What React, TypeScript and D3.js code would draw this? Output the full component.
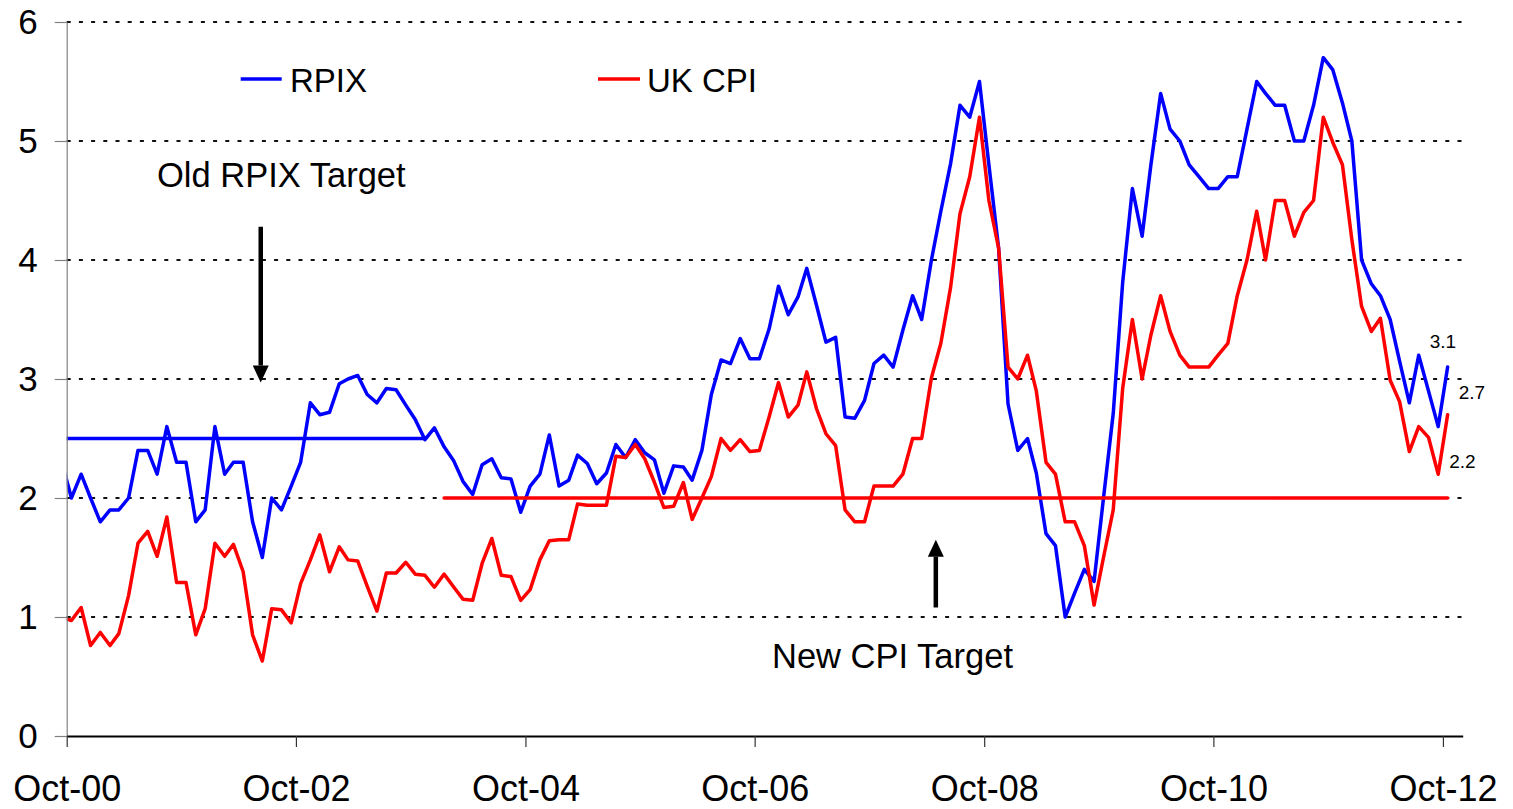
import React, { useEffect, useRef } from 'react';
import * as d3 from 'd3';

// monthly annual inflation rates, first value is Sep-00 (clipped by the axis)
const firstMonth = new Date(2000, 8, 16);

const rpix = [
  2.3, 2.0, 2.2, 2.0, 1.8, 1.9, 1.9, 2.0, 2.4, 2.4, 2.2, 2.6, 2.3, 2.3, 1.8, 1.9, 2.6, 2.2, 2.3, 2.3, 1.8, 1.5, 2.0, 1.9, 2.1, 2.3,
  2.8, 2.7, 2.72, 2.96, 3.0, 3.03, 2.87, 2.8, 2.92, 2.91, 2.78, 2.66, 2.49, 2.59, 2.43, 2.31, 2.14, 2.03, 2.28, 2.33, 2.17, 2.16, 1.88, 2.1, 2.2,
  2.53, 2.1, 2.15, 2.36, 2.29, 2.12, 2.21, 2.45, 2.34, 2.49, 2.38, 2.32, 2.04, 2.27, 2.26, 2.15, 2.4, 2.87, 3.16, 3.13, 3.34, 3.17, 3.17, 3.42, 3.78,
  3.54, 3.69, 3.93, 3.62, 3.31, 3.35, 2.68, 2.67, 2.82, 3.13, 3.2, 3.1, 3.41, 3.7, 3.5, 4.0, 4.41, 4.81, 5.3, 5.2, 5.5, 4.8, 4.1, 2.79, 2.4,
  2.5, 2.21, 1.7, 1.6, 1.0, 1.2, 1.4, 1.3, 2.0, 2.71, 3.81, 4.6, 4.2, 4.8, 5.4, 5.1, 5.0, 4.8, 4.7, 4.6, 4.6, 4.7, 4.7, 5.1, 5.5,
  5.4, 5.3, 5.3, 5.0, 5.0, 5.3, 5.7, 5.6, 5.32, 5.0, 4.0, 3.8, 3.7, 3.5, 3.15, 2.8, 3.2, 2.9, 2.6, 3.1,
];

const ukCpi = [
  1.0, 0.97, 1.08, 0.76, 0.87, 0.76, 0.86, 1.18, 1.62, 1.72, 1.51, 1.84, 1.29, 1.29, 0.85, 1.07, 1.62, 1.51, 1.61, 1.38, 0.85, 0.63, 1.07, 1.06, 0.95, 1.28,
  1.48, 1.69, 1.38, 1.59, 1.48, 1.47, 1.26, 1.05, 1.37, 1.37, 1.46, 1.36, 1.35, 1.25, 1.36, 1.25, 1.15, 1.14, 1.45, 1.66, 1.35, 1.34, 1.14, 1.23, 1.48,
  1.64, 1.65, 1.65, 1.95, 1.94, 1.94, 1.94, 2.35, 2.34, 2.45, 2.33, 2.13, 1.92, 1.93, 2.13, 1.82, 2.0, 2.18, 2.5, 2.4, 2.49, 2.39, 2.4, 2.68, 2.97,
  2.68, 2.78, 3.06, 2.75, 2.54, 2.44, 1.9, 1.8, 1.8, 2.1, 2.1, 2.1, 2.2, 2.5, 2.5, 3.01, 3.3, 3.77, 4.39, 4.7, 5.2, 4.5, 4.1, 3.1, 3.0,
  3.2, 2.9, 2.3, 2.2, 1.8, 1.8, 1.6, 1.1, 1.5, 1.9, 2.92, 3.5, 3.0, 3.37, 3.7, 3.4, 3.2, 3.1, 3.1, 3.1, 3.2, 3.3, 3.7, 4.0, 4.41,
  4.0, 4.5, 4.5, 4.2, 4.4, 4.5, 5.2, 4.99, 4.8, 4.17, 3.61, 3.4, 3.51, 2.99, 2.81, 2.39, 2.6, 2.51, 2.2, 2.7,
];

// target periods, as month indexes into the series above
const targets = [
  { name: 'Old RPIX Target', value: 2.5, from: 0, to: 38, color: '#0000ff' },
  { name: 'New CPI Target', value: 2.0, from: 40, to: 145, color: '#ff0000' },
];

const yTicks = [0, 1, 2, 3, 4, 5, 6];
const xTickYears = [2000, 2002, 2004, 2006, 2008, 2010, 2012];
const gridValues = [1, 2, 3, 4, 5, 6];

const W = 1513;
const H = 809;
const FONT = '"Liberation Sans", Arial, sans-serif';

export default function App() {
  const xAxisRef = useRef<SVGGElement>(null);
  const yAxisRef = useRef<SVGGElement>(null);

  const months = rpix.map((_, i) => d3.timeMonth.offset(firstMonth, i));
  const xTicks = xTickYears.map(yr => new Date(yr, 9, 1));

  const x = d3.scaleTime()
    .domain([new Date(2000, 9, 1), new Date(2012, 11, 3)])
    .range([66.7, 1462.7]);
  const y = d3.scaleLinear().domain([0, 6]).range([736, 22]);

  const line = d3.line<number>()
    .x((_, i) => x(months[i]))
    .y(d => y(d));

  const [x0, x1] = x.range();

  useEffect(() => {
    const gx = d3.select(xAxisRef.current!);
    gx.call(
      d3.axisBottom(x)
        .tickValues(xTicks)
        .tickFormat(d3.timeFormat('%b-%y') as any)
        .tickSize(11)
        .tickSizeOuter(0)
        .tickPadding(28) as any
    );
    gx.attr('font-family', FONT).attr('font-size', 36);
    gx.select('.domain').attr('stroke', '#000').attr('stroke-width', 2);
    gx.selectAll('.tick line').attr('stroke', '#333').attr('stroke-width', 1.2);
    gx.selectAll('.tick text').attr('fill', '#000');

    const gy = d3.select(yAxisRef.current!);
    gy.call(
      d3.axisLeft(y)
        .tickValues(yTicks)
        .tickFormat(d3.format('d') as any)
        .tickSize(12)
        .tickSizeOuter(0)
        .tickPadding(17) as any
    );
    gy.attr('font-family', FONT).attr('font-size', 35);
    gy.select('.domain').attr('stroke', '#808080').attr('stroke-width', 1.2);
    gy.selectAll('.tick line').attr('stroke', '#808080').attr('stroke-width', 1.2);
    gy.selectAll('.tick text').attr('fill', '#000');
  }, []);

  // arrows, in data units
  const downArrow = { date: new Date(2002, 5, 11), from: 4.28, to: 2.97 };
  const upArrow = { date: new Date(2008, 3, 30), from: 1.08, to: 1.65 };

  const arrow = (a: { date: Date; from: number; to: number }) => {
    const ax = x(a.date);
    const yTail = y(a.from);
    const yTip = y(a.to);
    const dir = yTip > yTail ? 1 : -1;
    const headLen = 17;
    const headHalf = 8;
    return (
      <g>
        <line x1={ax} x2={ax} y1={yTail} y2={yTip - dir * headLen} stroke="#000" strokeWidth={4.5} />
        <polygon
          points={`${ax - headHalf},${yTip - dir * headLen} ${ax + headHalf},${yTip - dir * headLen} ${ax},${yTip}`}
          fill="#000"
        />
      </g>
    );
  };

  const last = rpix.length - 1;
  const endLabels = [
    { value: rpix[last], i: last, dx: -18, dy: -19 },
    { value: ukCpi[last], i: last, dx: 11, dy: -16 },
    { value: ukCpi[last - 1], i: last - 1, dx: 11, dy: -6 },
  ];

  return (
    <svg width={W} height={H} style={{ position: 'absolute', left: 0, top: 0, background: '#fff' }}
      fontFamily={FONT}>
      <defs>
        <clipPath id="plot">
          <rect x={x0} y={0} width={x1 - x0} height={H} />
        </clipPath>
      </defs>

      {/* gridlines */}
      {gridValues.map(v => (
        <line key={v} x1={x0} x2={x1} y1={y(v)} y2={y(v)}
          stroke="#111" strokeWidth={2} strokeDasharray="4 8.2" />
      ))}

      <g clipPath="url(#plot)" fill="none" strokeLinejoin="round" strokeLinecap="round">
        <path d={line(rpix) || ''} stroke="#0000ff" strokeWidth={3.5} />
        <path d={line(ukCpi) || ''} stroke="#ff0000" strokeWidth={3.5} />
        {targets.map(t => (
          <line key={t.name}
            x1={x(months[t.from])} x2={x(months[t.to])}
            y1={y(t.value)} y2={y(t.value)}
            stroke={t.color} strokeWidth={3.5} />
        ))}
      </g>

      <g ref={yAxisRef} transform={`translate(${x0},0)`} />
      <g ref={xAxisRef} transform={`translate(0,${y(0)})`} />

      {/* legend */}
      <line x1={240.7} x2={281.7} y1={79} y2={79} stroke="#0000ff" strokeWidth={3.5} />
      <text x={290} y={91.5} fontSize={33}>RPIX</text>
      <line x1={598} x2={640} y1={79} y2={79} stroke="#ff0000" strokeWidth={3.5} />
      <text x={647} y={91.5} fontSize={33}>UK CPI</text>

      {/* annotations */}
      <text x={157} y={187} fontSize={34.5}>{targets[0].name}</text>
      <text x={772} y={668} fontSize={34.5}>{targets[1].name}</text>
      {arrow(downArrow)}
      {arrow(upArrow)}

      {endLabels.map((l, k) => (
        <text key={k} x={x(months[l.i]) + l.dx} y={y(l.value) + l.dy} fontSize={19}>
          {l.value.toFixed(1)}
        </text>
      ))}
    </svg>
  );
}
